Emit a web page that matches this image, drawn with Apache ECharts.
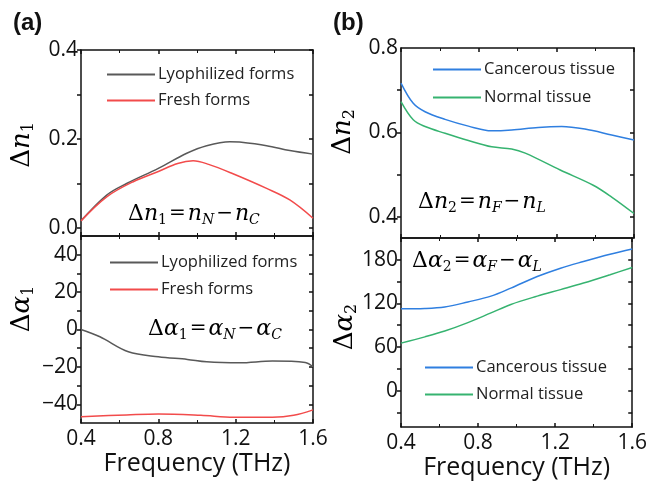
<!DOCTYPE html>
<html>
  <head>
    <meta charset="UTF-8">
    <title>THz difference spectra</title>
    <script src="https://cdn.jsdelivr.net/npm/echarts@6/dist/echarts.min.js"></script>
  </head>
  <body style="margin:0">
    <div id="myChart" style="width: 650px;height:493px;"></div>
    <script type="text/javascript">
    // (a) top: delta n1, [frequency THz, value]
    var lyoN = [[0.4, 0.016], [0.533, 0.074], [0.636, 0.100], [0.8, 0.134], [0.947, 0.168], [1.05, 0.185],
      [1.17, 0.194], [1.22, 0.193], [1.36, 0.185], [1.48, 0.174], [1.6, 0.166]];
    var freshN = [[0.4, 0.016], [0.533, 0.070], [0.67, 0.104], [0.8, 0.127], [0.9, 0.145], [0.98, 0.151],
      [1.06, 0.143], [1.18, 0.123], [1.36, 0.089], [1.48, 0.063], [1.6, 0.022]];
    // (a) bottom: delta alpha1
    var lyoA = [[0.4, 0], [0.498, -3.9], [0.645, -11.9], [0.8, -14.6], [0.95, -16], [1.05, -17.3],
      [1.22, -17.8], [1.39, -16.9], [1.56, -17.6], [1.6, -19.9]];
    var freshA = [[0.4, -46.6], [0.636, -45.7], [0.8, -45.2], [1.02, -45.9], [1.19, -46.9], [1.39, -46.9],
      [1.5, -45.9], [1.6, -43]];
    // (b) top: delta n2
    var cancerN = [[0.4, 0.717], [0.463, 0.669], [0.524, 0.649], [0.627, 0.631], [0.747, 0.615], [0.867, 0.604],
      [0.97, 0.606], [1.107, 0.612], [1.228, 0.614], [1.347, 0.608], [1.485, 0.594], [1.6, 0.582]];
    var normalN = [[0.4, 0.673], [0.463, 0.630], [0.524, 0.614], [0.627, 0.598], [0.747, 0.581], [0.867, 0.566],
      [0.97, 0.561], [1.04, 0.551], [1.22, 0.511], [1.39, 0.475], [1.485, 0.447], [1.6, 0.408]];
    // (b) bottom: delta alpha2
    var cancerA = [[0.4, 112.6], [0.524, 113], [0.627, 115], [0.747, 122], [0.867, 130], [0.97, 141],
      [1.107, 157], [1.228, 168.5], [1.347, 177.7], [1.485, 187.7], [1.6, 195]];
    var normalA = [[0.4, 65.4], [0.524, 74], [0.627, 82], [0.747, 93.6], [0.867, 107], [0.97, 118.6],
      [1.107, 130], [1.228, 139], [1.347, 148], [1.485, 159.5], [1.6, 169.5]];

    var n1Labels = [0, 0.2, 0.4];
    var n1Ticks = [0, 0.1, 0.2, 0.3, 0.4];
    var a1Labels = [-40, -20, 0, 20, 40];
    var a1Ticks = [-40, -30, -20, -10, 0, 10, 20, 30, 40];
    var n2Labels = [0.4, 0.6, 0.8];
    var n2Ticks = [0.4, 0.5, 0.6, 0.7];
    var a2Labels = [0, 60, 120, 180];
    var a2Ticks = [-30, 0, 30, 60, 90, 120, 150, 180];

    var names = ['Lyophilized forms', 'Fresh forms', 'Cancerous tissue', 'Normal tissue'];
    var colors = ['#595959', '#f24b4b', '#2f7fe0', '#36b370'];

    var sans = '"Open Sans", sans-serif';
    var serif = '"DejaVu Serif", serif';
    var lineStyle = { color: '#111', width: 1.5 };

    var myChart = echarts.init(document.getElementById('myChart'));

    var grids = [
      { left: 81, top: 50, width: 232, height: 186 },
      { left: 81, top: 236, width: 232, height: 187 },
      { left: 401, top: 48, width: 233, height: 190 },
      { left: 401, top: 238, width: 233, height: 189 }
    ];

    function minus(v) { return String(v).replace('-', '\u2212'); }

    var xAxes = [], yAxes = [];
    grids.forEach(function (g, i) {
      var bottom = i % 2 === 1;
      xAxes.push({
        type: 'value', gridIndex: i, min: 0.4, max: 1.6, interval: 0.4,
        axisLine: { onZero: false, lineStyle: lineStyle },
        axisTick: { inside: true, length: 4, lineStyle: lineStyle },
        minorTick: { show: true, splitNumber: 2, length: 3, lineStyle: { color: '#111' } },
        splitLine: { show: false },
        axisLabel: { show: bottom, fontFamily: sans, fontSize: 21, color: '#111', margin: 6,
          formatter: function (v) { return v.toFixed(1); } },
        name: bottom ? 'Frequency (THz)' : '',
        nameLocation: 'middle', nameGap: 22,
        nameTextStyle: { fontFamily: sans, fontSize: 25, color: '#111' }
      });
      xAxes.push({
        type: 'value', gridIndex: i, position: 'top', min: 0.4, max: 1.6, interval: 0.4,
        axisLine: { onZero: false, lineStyle: lineStyle },
        axisTick: { inside: true, length: 4, lineStyle: lineStyle },
        minorTick: { show: true, splitNumber: 2, length: 3, lineStyle: { color: '#111' } },
        splitLine: { show: false }, axisLabel: { show: false }
      });
    });

    var yRanges = [
      { min: -0.018, max: 0.4, labels: n1Labels, ticks: n1Ticks, fmt: function (v) { return v.toFixed(1); } },
      { min: -50, max: 50, labels: a1Labels, ticks: a1Ticks, fmt: minus },
      { min: 0.35, max: 0.8, labels: n2Labels, ticks: n2Ticks, fmt: function (v) { return v.toFixed(1); } },
      { min: -50, max: 210, labels: a2Labels, ticks: a2Ticks, fmt: minus }
    ];
    yRanges.forEach(function (r, i) {
      yAxes.push({
        type: 'value', gridIndex: i, min: r.min, max: r.max,
        axisLine: { show: true, onZero: false, lineStyle: lineStyle },
        axisTick: { show: true, inside: false, length: 4, customValues: r.ticks, lineStyle: lineStyle },
        splitLine: { show: false },
        axisLabel: { customValues: r.labels, formatter: r.fmt, fontFamily: sans, fontSize: 21, color: '#111', margin: 3 }
      });
      yAxes.push({
        type: 'value', gridIndex: i, position: 'right', min: r.min, max: r.max,
        axisLine: { show: true, onZero: false, lineStyle: lineStyle },
        axisTick: { show: true, inside: true, length: 4, customValues: r.ticks, lineStyle: lineStyle },
        splitLine: { show: false }, axisLabel: { show: false }
      });
    });

    function line(name, data, color, gi) {
      return {
        type: 'line', name: name, data: data, smooth: 0.35, showSymbol: false,
        xAxisIndex: gi * 2, yAxisIndex: gi * 2,
        lineStyle: { color: color, width: 1.5 }, itemStyle: { color: color }
      };
    }

    function legend(list, left, top, gap) {
      return {
        data: list, left: left, top: top, orient: 'vertical', padding: 0, itemGap: gap,
        icon: 'rect', itemWidth: 48, itemHeight: 2,
        textStyle: { fontFamily: sans, fontSize: 16.5, color: '#222', padding: [0, 0, 0, -2] }
      };
    }

    var rich = {
      d: { fontFamily: serif, fontSize: 22, lineHeight: 26, color: '#111' },
      i: { fontFamily: serif, fontStyle: 'italic', fontSize: 22, lineHeight: 26, color: '#111' },
      s: { fontFamily: serif, fontSize: 14, lineHeight: 14, verticalAlign: 'bottom', color: '#111' },
      si: { fontFamily: serif, fontStyle: 'italic', fontSize: 14, lineHeight: 14, verticalAlign: 'bottom', color: '#111' },
      o: { fontFamily: serif, fontSize: 20, lineHeight: 26, color: '#111', padding: [0, 2, 0, 2] },
      D: { fontFamily: serif, fontSize: 26, lineHeight: 30, color: '#111' },
      I: { fontFamily: serif, fontStyle: 'italic', fontSize: 26, lineHeight: 30, color: '#111' },
      S: { fontFamily: serif, fontSize: 16, lineHeight: 16, verticalAlign: 'bottom', color: '#111' }
    };

    function txt(text, x, y, rot) {
      return {
        type: 'text', x: x, y: y, rotation: rot || 0,
        style: { text: text, rich: rich, align: rot ? 'center' : 'left', verticalAlign: 'middle' }
      };
    }

    option = {
      animation: false,
      backgroundColor: '#fff',
      grid: grids,
      xAxis: xAxes,
      yAxis: yAxes,
      legend: [
        legend([names[0], names[1]], 107, 66, 9),
        legend([names[0], names[1]], 110, 254, 10),
        legend([names[2], names[3]], 433, 61, 11),
        legend([names[2], names[3]], 425, 359, 10)
      ],
      series: [
        line(names[0], lyoN, colors[0], 0),
        line(names[1], freshN, colors[1], 0),
        line(names[0], lyoA, colors[0], 1),
        line(names[1], freshA, colors[1], 1),
        line(names[2], cancerN, colors[2], 2),
        line(names[3], normalN, colors[3], 2),
        line(names[2], cancerA, colors[2], 3),
        line(names[3], normalA, colors[3], 3)
      ],
      graphic: [
        { type: 'text', x: 13, y: 11, style: { text: '(a)', font: 'bold 24px "Liberation Sans", Arial', fill: '#111' } },
        { type: 'text', x: 333, y: 11, style: { text: '(b)', font: 'bold 24px "Liberation Sans", Arial', fill: '#111' } },
        txt('{D|Δ}{I|n}{S|1}', 22, 145, Math.PI / 2),
        txt('{D|Δ}{I|α}{S|1}', 22, 309, Math.PI / 2),
        txt('{D|Δ}{I|n}{S|2}', 343, 132, Math.PI / 2),
        txt('{D|Δ}{I|α}{S|2}', 345, 327, Math.PI / 2),
        txt('{d|Δ}{i|n}{s|1}{o|=}{i|n}{si|N}{o|−}{i|n}{si|C}', 128, 214),
        txt('{d|Δ}{i|α}{s|1}{o|=}{i|α}{si|N}{o|−}{i|α}{si|C}', 148, 329),
        txt('{d|Δ}{i|n}{s|2}{o|=}{i|n}{si|F}{o|−}{i|n}{si|L}', 418, 202),
        txt('{d|Δ}{i|α}{s|2}{o|=}{i|α}{si|F}{o|−}{i|α}{si|L}', 412, 261)
      ]
    };
    myChart.setOption(option);
    </script>
  </body>
</html>
